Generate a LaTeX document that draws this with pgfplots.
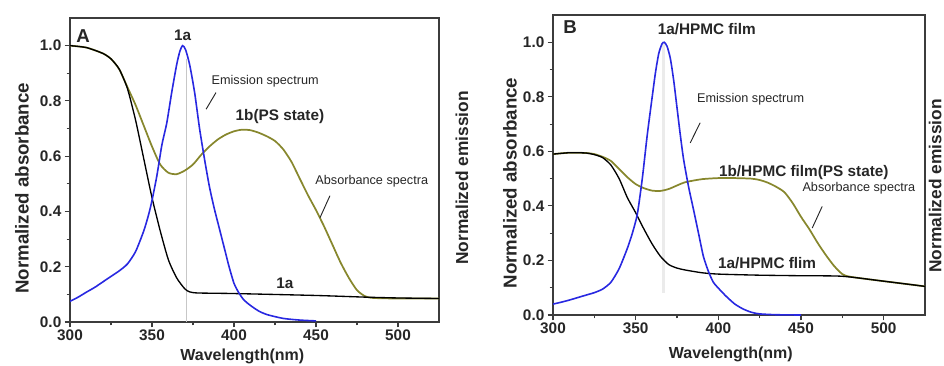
\documentclass[border=0pt]{standalone}
\usepackage{fontspec}
\setmainfont{Liberation Sans}
\usepackage{pgfplots}
\usepackage{pgfplotstable}
\pgfplotsset{compat=1.18}

\definecolor{emblue}{RGB}{40,40,225}
\definecolor{oliv}{RGB}{135,135,45}
\definecolor{frm}{RGB}{60,60,60}

% ---------------- Panel A data ----------------
\pgfplotstableread{
x y
300 1.000
310 0.993
320 0.972
325 0.952
330 0.915
335 0.845
340 0.730
345 0.590
350 0.450
355 0.330
360 0.225
365 0.160
370 0.120
373 0.109
378 0.105
400 0.103
450 0.096
480 0.090
500 0.087
525 0.085
}\absAblack

\pgfplotstableread{
x y
300 1.000
310 0.993
320 0.972
325 0.952
330 0.915
335 0.850
340 0.785
345 0.710
350 0.635
355 0.570
360 0.540
365 0.535
370 0.548
375 0.570
380 0.605
385 0.635
390 0.660
395 0.678
400 0.690
405 0.696
410 0.694
415 0.685
420 0.672
425 0.655
430 0.625
435 0.580
440 0.520
445 0.460
450 0.405
455 0.345
460 0.280
465 0.215
470 0.160
475 0.115
480 0.093
485 0.087
500 0.085
525 0.085
}\absAolive

\pgfplotstableread{
x y
300 0.075
305 0.090
310 0.108
315 0.125
320 0.145
325 0.165
330 0.185
335 0.210
340 0.255
345 0.330
348 0.390
350 0.440
353 0.530
356 0.640
359 0.720
362 0.830
365 0.930
367 0.980
368.7 1.000
370.5 0.985
373 0.930
376 0.830
379 0.700
382 0.590
385 0.490
388 0.410
391 0.340
394 0.270
397 0.200
400 0.140
403 0.105
406 0.080
410 0.060
415 0.040
420 0.027
430 0.013
440 0.007
450 0.004
}\emA

% ---------------- Panel B data ----------------
\pgfplotstableread{
x y
300 0.590
310 0.595
320 0.594
325 0.588
330 0.577
335 0.550
340 0.500
345 0.430
350 0.375
355 0.315
360 0.260
365 0.215
370 0.185
375 0.172
380 0.165
390 0.155
400 0.150
425 0.146
450 0.144
475 0.142
500 0.124
525 0.105
}\absBblack

\pgfplotstableread{
x y
300 0.590
310 0.595
320 0.594
325 0.590
330 0.580
335 0.565
340 0.535
345 0.505
350 0.480
355 0.465
360 0.456
365 0.455
370 0.462
375 0.475
380 0.487
390 0.498
400 0.502
410 0.502
420 0.500
425 0.495
430 0.485
435 0.470
440 0.450
445 0.410
450 0.360
455 0.315
460 0.265
465 0.220
470 0.180
475 0.150
480 0.140
500 0.124
525 0.105
}\absBolive

\pgfplotstableread{
x y
300 0.040
305 0.047
310 0.055
315 0.064
320 0.073
325 0.082
330 0.095
335 0.120
340 0.170
345 0.245
348 0.300
351 0.370
354 0.500
357 0.660
360 0.800
362 0.890
364 0.960
366 0.995
367.3 1.000
369 0.985
371 0.940
373 0.860
375 0.760
377 0.660
379 0.570
382 0.470
385 0.386
388 0.300
391 0.214
394 0.160
397 0.120
401 0.092
405 0.067
410 0.040
415 0.022
420 0.010
425 0.004
435 0.001
450 0.000
}\emB

\tikzset{
  blk/.style={black, line width=1.0pt, smooth, tension=0.4},
  olv/.style={oliv, line width=1.3pt, smooth, tension=0.4},
  blu/.style={emblue, line width=1.2pt, smooth, tension=0.4},
  small/.style={font=\fontsize{9.5}{10}\selectfont, text=black!85},
  big/.style={font=\fontsize{11.5}{12}\selectfont\bfseries, text=black!85},
}

\pgfplotsset{
  panel/.style={
    scale only axis,
    anchor=south west,
    clip mode=individual,
    xmin=300, xmax=525, ymin=0, ymax=1.1,
    xtick={300,350,400,450,500},
    ytick={0,0.2,0.4,0.6,0.8,1.0},
    minor x tick num=1, minor y tick num=1,
    xtick pos=left, ytick pos=left,
    tick align=outside,
    major tick length=4pt, minor tick length=2.5pt,
    axis line style={frm, line width=1.1pt},
    every tick/.style={frm, line width=0.8pt},
    /pgf/number format/assume math mode=true,
    ticklabel style={font=\fontsize{11.5}{12}\selectfont\bfseries, text=black!85},
    y tick label style={/pgf/number format/fixed,/pgf/number format/fixed zerofill,/pgf/number format/precision=1},
    x tick label style={/pgf/number format/1000 sep={}},
    xticklabel shift=-2pt,
    yticklabel shift=-1pt,
    xlabel={Wavelength(nm)},
    ylabel={Normalized absorbance},
    xlabel style={font=\fontsize{12}{12}\selectfont\bfseries, text=black!85, anchor=center},
    ylabel style={font=\fontsize{14}{14}\selectfont\bfseries, text=black!85, anchor=center},
  },
}

\begin{document}
\begin{tikzpicture}[x=1pt,y=1pt]
\path[use as bounding box] (0,0) rectangle (708,273.75);

% ================= Panel A =================
\begin{axis}[panel,
  at={(52.5pt,32.25pt)}, width=276.75pt, height=228pt,
  xlabel style={at={(axis description cs:0.467,-0.112)}},
  ylabel style={at={(axis description cs:-0.13,0.44)}},
]
\addplot[black!22, line width=0.4pt] coordinates {(371,0) (371,0.95)};
\addplot[olv] table {\absAolive};
\addplot[blk] table {\absAblack};
\addplot[blu] table {\emA};
\node[font=\fontsize{14}{14}\selectfont\bfseries, text=black!85] at (axis cs:308,1.036) {A};
\node[big] at (axis cs:368.7,1.037) {1a};
\node[small] at (axis cs:419,0.873) {Emission spectrum};
\node[big] at (axis cs:428,0.745) {1b(PS state)};
\node[small] at (axis cs:484,0.51) {Absorbance spectra};
\node[big] at (axis cs:431,0.141) {1a};
\draw[black!85, line width=0.7pt] (axis cs:383,0.77) -- (axis cs:389,0.83);
\draw[black!85, line width=0.7pt] (axis cs:452.4,0.377) -- (axis cs:458.5,0.457);
\node[font=\fontsize{13}{13}\selectfont\bfseries, text=black!85, rotate=90] at (axis description cs:1.062,0.474) {Normalized emission};
\end{axis}

% ================= Panel B =================
\begin{axis}[panel,
  at={(414.75pt,37.5pt)}, width=279pt, height=225pt,
  xlabel style={at={(axis description cs:0.478,-0.13)}},
  ylabel style={at={(axis description cs:-0.116,0.44)}},
]
\addplot[black!8, line width=2.5pt] coordinates {(367,0.08) (367,1.0)};
\addplot[olv] table {\absBolive};
\addplot[blk] table {\absBblack};
\addplot[blu] table {\emB};
\node[font=\fontsize{14}{14}\selectfont\bfseries, text=black!85] at (axis cs:310.3,1.055) {B};
\node[big] at (axis cs:393,1.048) {1a/HPMC film};
\node[small] at (axis cs:419.5,0.79) {Emission spectrum};
\node[big] at (axis cs:451.7,0.521) {1b/HPMC film(PS state)};
\node[small] at (axis cs:485,0.466) {Absorbance spectra};
\node[big] at (axis cs:429.5,0.19) {1a/HPMC flim};
\draw[black!85, line width=0.7pt] (axis cs:383,0.631) -- (axis cs:389,0.705);
\draw[black!85, line width=0.7pt] (axis cs:456.8,0.319) -- (axis cs:462.8,0.398);
\node[font=\fontsize{13}{13}\selectfont\bfseries, text=black!85, rotate=90] at (axis description cs:1.027,0.43) {Normalized emission};
\end{axis}
\end{tikzpicture}
\end{document}
